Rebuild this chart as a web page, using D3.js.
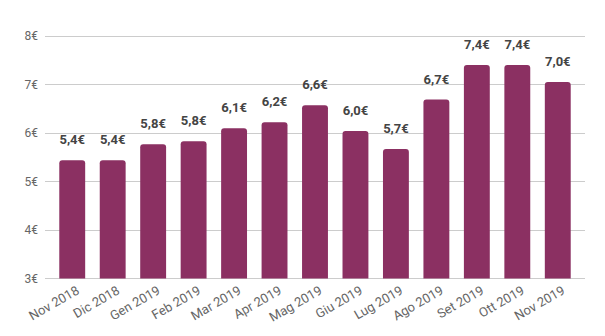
<!DOCTYPE html>
<html><head><meta charset="utf-8">
<script src="https://cdn.jsdelivr.net/npm/d3@7"></script>
<style>body{margin:0;background:#fff}svg{display:block}</style>
</head><body>
<svg id="c" width="605" height="336"></svg>
<script>
const categories = ["Nov 2018","Dic 2018","Gen 2019","Feb 2019","Mar 2019","Apr 2019","Mag 2019","Giu 2019","Lug 2019","Ago 2019","Set 2019","Ott 2019","Nov 2019"];
const values = [5.44,5.44,5.77,5.83,6.10,6.22,6.57,6.04,5.67,6.69,7.40,7.40,7.05];
const labels = ["5,4€","5,4€","5,8€","5,8€","6,1€","6,2€","6,6€","6,0€","5,7€","6,7€","7,4€","7,4€","7,0€"];
const yTicks = [3,4,5,6,7,8];

const svg = d3.select("#c");
const font = "Roboto, sans-serif";
const x = d3.scaleBand().domain(categories).range([52,578]).paddingInner(0.36).paddingOuter(0.18);
const y = d3.scaleLinear().domain([3,8]).range([278.5,36]);

svg.append("g").selectAll("line").data(yTicks).join("line")
  .attr("x1",45).attr("x2",585).attr("y1",d=>y(d)).attr("y2",d=>y(d))
  .attr("stroke","#cccccc").attr("stroke-width",1).attr("shape-rendering","crispEdges");

svg.append("g").selectAll("text").data(yTicks).join("text")
  .attr("x",38).attr("y",d=>y(d)).attr("dy","0.35em").attr("text-anchor","end")
  .attr("font-family",font).attr("font-size",12).attr("fill","#666")
  .text(d=>d+"€");

function barPath(x0,w,yTop,yBot,r){
  const p = d3.path();
  p.moveTo(x0,yBot);
  p.lineTo(x0,yTop+r);
  p.arcTo(x0,yTop,x0+r,yTop,r);
  p.lineTo(x0+w-r,yTop);
  p.arcTo(x0+w,yTop,x0+w,yTop+r,r);
  p.lineTo(x0+w,yBot);
  p.closePath();
  return p.toString();
}

svg.append("g").selectAll("path").data(categories).join("path")
  .attr("d",(c,i)=>barPath(x(c),x.bandwidth(),y(values[i]),y(3),3))
  .attr("fill","#8b3062");

svg.append("g").selectAll("text").data(categories).join("text")
  .attr("x",c=>x(c)+x.bandwidth()/2).attr("y",(c,i)=>y(values[i])-16)
  .attr("text-anchor","middle").attr("font-family",font).attr("font-weight","bold")
  .attr("font-size",13).attr("fill","#444").text((c,i)=>labels[i]);

svg.append("g").selectAll("text").data(categories).join("text")
  .attr("transform",c=>`translate(${x(c)+x.bandwidth()/2+8},${293}) rotate(-30)`)
  .attr("text-anchor","end").attr("font-family",font).attr("font-size",13).attr("fill","#666")
  .text(c=>c);
</script>
</body></html>
